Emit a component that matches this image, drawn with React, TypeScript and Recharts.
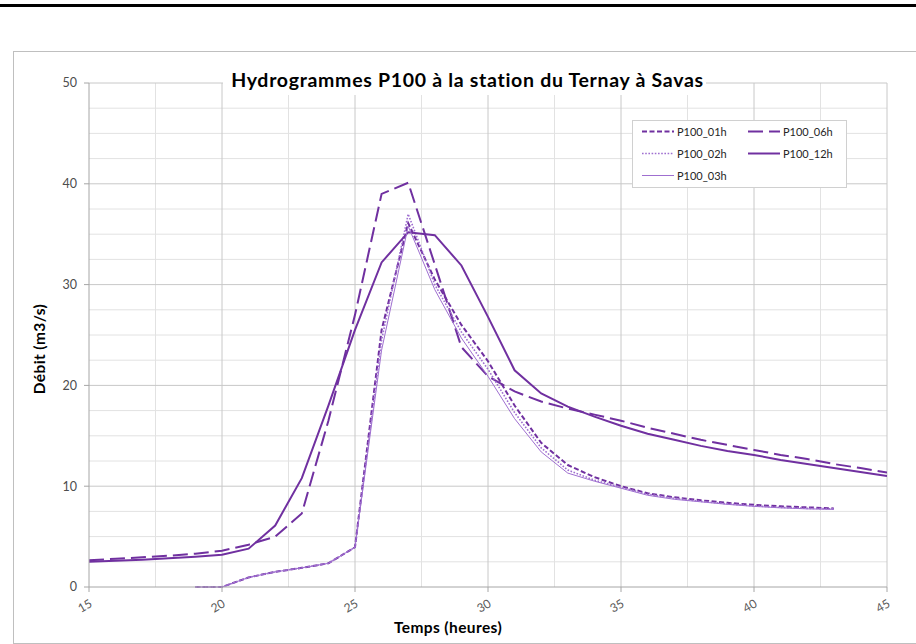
import React from 'react';
import { LineChart, Line, XAxis, YAxis, CartesianGrid } from 'recharts';

// ---- data ----
const HOURS = [15, 16, 17, 18, 19, 20, 21, 22, 23, 24, 25, 26, 27, 28, 29, 30, 31, 32, 33, 34, 35, 36, 37, 38, 39, 40, 41, 42, 43, 44, 45];

const P100_01h = [null, null, null, null, 0, 0, 0.95, 1.5, 1.9, 2.35, 3.95, 25.5, 36.1, 30.5, 26.0, 22.4, 18.0, 14.3, 12.1, 10.9, 10.0, 9.3, 8.9, 8.6, 8.35, 8.15, 8.0, 7.9, 7.8, null, null];
const P100_02h = [null, null, null, null, 0, 0, 0.95, 1.5, 1.9, 2.35, 3.95, 24.5, 37.0, 30.0, 25.3, 21.6, 17.3, 13.8, 11.6, 10.6, 9.9, 9.2, 8.8, 8.5, 8.25, 8.05, 7.9, 7.8, 7.75, null, null];
const P100_03h = [null, null, null, null, 0, 0, 0.95, 1.5, 1.9, 2.35, 3.95, 23.5, 35.8, 29.5, 24.7, 20.9, 16.7, 13.4, 11.3, 10.5, 9.8, 9.1, 8.7, 8.45, 8.2, 8.0, 7.85, 7.75, 7.7, null, null];
const P100_06h = [2.65, 2.8, 2.95, 3.1, 3.3, 3.6, 4.2, 5.0, 7.3, 16.5, 27.0, 39.0, 40.1, 32.0, 23.8, 20.9, 19.4, 18.4, 17.7, 17.1, 16.5, 15.8, 15.2, 14.6, 14.1, 13.6, 13.1, 12.7, 12.2, 11.8, 11.35];
const P100_12h = [2.5, 2.6, 2.7, 2.85, 3.0, 3.2, 3.8, 6.1, 10.8, 18.0, 25.5, 32.2, 35.2, 34.9, 31.9, 26.8, 21.5, 19.2, 17.9, 16.9, 16.0, 15.2, 14.6, 14.0, 13.5, 13.1, 12.6, 12.2, 11.8, 11.4, 11.0];

const X_TICKS = [15, 20, 25, 30, 35, 40, 45];
const Y_TICKS = [0, 10, 20, 30, 40, 50];
const X_MAJOR_GRID = [20, 25, 30, 35, 40, 45];
const X_MINOR_GRID = [17.5, 22.5, 27.5, 32.5, 37.5, 42.5];
const Y_MAJOR_GRID = [10, 20, 30, 40, 50];
const Y_MINOR_GRID = [2.5, 5, 7.5, 12.5, 15, 17.5, 22.5, 25, 27.5, 32.5, 35, 37.5, 42.5, 45, 47.5];

const TITLE = 'Hydrogrammes P100 à la station du Ternay à Savas';
const X_LABEL = 'Temps (heures)';
const Y_LABEL = 'Débit (m3/s)';

const DARK = '#7030a0';
const LIGHT = '#9f6fd0';

const SERIES = [
  { key: 'P100_01h', values: P100_01h, color: DARK, width: 2, dash: '5 2.5' },
  { key: 'P100_06h', values: P100_06h, color: DARK, width: 2, dash: '15 6' },
  { key: 'P100_02h', values: P100_02h, color: LIGHT, width: 1.6, dash: '1.6 1.6' },
  { key: 'P100_12h', values: P100_12h, color: DARK, width: 2, dash: undefined },
  { key: 'P100_03h', values: P100_03h, color: LIGHT, width: 1, dash: undefined },
];

const data = HOURS.map((t, i) => {
  const row: any = { t };
  SERIES.forEach((s) => {
    row[s.key] = s.values[i];
  });
  return row;
});

const FONT = 'Lato, "Open Sans", sans-serif';

const scaleOf = (axis: any, v: number, fallback: () => number) =>
  axis && typeof axis.scale === 'function' ? axis.scale(v) : fallback();

const vGen = (values: number[]) => (props: any) => {
  const { xAxis, offset } = props;
  return values.map((v) => scaleOf(xAxis, v, () => offset.left + ((v - 15) / 30) * offset.width));
};
const hGen = (values: number[]) => (props: any) => {
  const { yAxis, offset } = props;
  return values.map((v) => scaleOf(yAxis, v, () => offset.top + offset.height - (v / 50) * offset.height));
};

const XTick = (props: any) => {
  const { x, y, payload } = props;
  const ax = x + 4;
  const ay = y + 12;
  return (
    <text x={ax} y={ay} textAnchor="end" fontSize={12} fill="#595959" fontFamily={FONT} transform={`rotate(-30, ${ax}, ${ay})`}>
      {payload.value}
    </text>
  );
};

// legend layout (two columns)
const LEGEND_ORDER = [
  ['P100_01h', 'P100_06h'],
  ['P100_02h', 'P100_12h'],
  ['P100_03h'],
];

export default function App() {
  return (
    <div style={{ position: 'relative', width: 916, height: 644, background: '#fff', overflow: 'hidden' }}>
      <style>{'body{margin:0;}'}</style>
      <div style={{ position: 'absolute', left: 0, top: 4, width: 916, height: 3, background: '#000' }} />
      <div style={{ position: 'absolute', left: 13, top: 51, width: 940, height: 591, border: '1px solid #bfbfbf' }} />
      <div style={{ position: 'absolute', left: 0, top: 0 }}>
        <LineChart width={916} height={644} data={data} margin={{ top: 83, right: 29, bottom: 27, left: 29 }}>
          <CartesianGrid
            stroke="#e2e2e2"
            strokeWidth={1}
            horizontalCoordinatesGenerator={hGen(Y_MINOR_GRID)}
            verticalCoordinatesGenerator={vGen(X_MINOR_GRID)}
          />
          <CartesianGrid
            stroke="#c8c8c8"
            strokeWidth={1}
            horizontalCoordinatesGenerator={hGen(Y_MAJOR_GRID)}
            verticalCoordinatesGenerator={vGen(X_MAJOR_GRID)}
          />
          <XAxis
            dataKey="t"
            type="number"
            domain={[15, 45]}
            ticks={X_TICKS}
            interval={0}
            height={30}
            tickSize={5}
            tickMargin={2}
            stroke="#a6a6a6"
            tick={<XTick />}
            allowDataOverflow
          />
          <YAxis
            type="number"
            domain={[0, 50]}
            ticks={Y_TICKS}
            interval={0}
            width={60}
            tickSize={5}
            tickMargin={7}
            stroke="#a6a6a6"
            tick={{ fontSize: 12.5, fill: '#4d4d4d', fontFamily: FONT }}
          />
          {SERIES.map((s) => (
            <Line
              key={s.key}
              dataKey={s.key}
              name={s.key}
              type="linear"
              stroke={s.color}
              strokeWidth={s.width}
              strokeDasharray={s.dash}
              dot={false}
              activeDot={false}
              connectNulls={false}
              isAnimationActive={false}
            />
          ))}
        </LineChart>
      </div>
      <svg width={916} height={644} style={{ position: 'absolute', left: 0, top: 0 }}>
        <rect x={223} y={68} width={483} height={27} fill="#fff" />
        <text x={467.5} y={87} textAnchor="middle" fontSize={19.5} fontWeight="bold" fontFamily={FONT} fill="#000" letterSpacing={0.7}>
          {TITLE}
        </text>
        <text x={448} y={633} textAnchor="middle" fontSize={15.5} fontWeight="bold" fontFamily={FONT} fill="#000" letterSpacing={0.4}>
          {X_LABEL}
        </text>
        <text x={45} y={349} textAnchor="middle" fontSize={15.5} fontWeight="bold" fontFamily={FONT} fill="#000" letterSpacing={0.4} transform="rotate(-90, 45, 349)">
          {Y_LABEL}
        </text>
        <g transform="translate(632,120)">
          <rect x={0.5} y={0.5} width={214} height={67} fill="#fff" stroke="#d0d0d0" />
          {LEGEND_ORDER.map((row, r) =>
            row.map((key, c) => {
              const s = SERIES.find((q) => q.key === key)!;
              const x0 = c === 0 ? 10 : 116;
              const yc = 11.5 + r * 22;
              return (
                <g key={key}>
                  <line x1={x0} x2={x0 + 32} y1={yc} y2={yc} stroke={s.color} strokeWidth={s.width} strokeDasharray={s.dash} />
                  <text x={x0 + 35} y={yc + 4} fontSize={11} fontFamily={FONT} fill="#262626">
                    {key}
                  </text>
                </g>
              );
            })
          )}
        </g>
      </svg>
    </div>
  );
}
